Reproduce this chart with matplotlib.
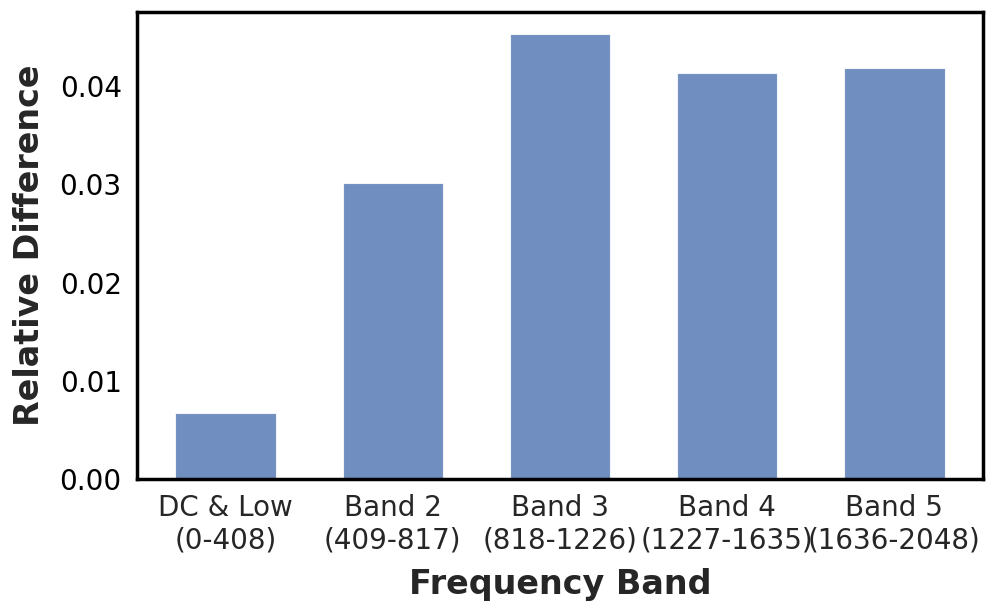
import matplotlib
matplotlib.use('Agg')
import matplotlib.pyplot as plt

bands = ['DC & Low\n(0-408)', 'Band 2\n(409-817)', 'Band 3\n(818-1226)',
         'Band 4\n(1227-1635)', 'Band 5\n(1636-2048)']
rel_diff = [0.0067, 0.0301, 0.0453, 0.0413, 0.0419]

fig, ax = plt.subplots(figsize=(9.97, 6.14), dpi=100)
ax.bar(range(len(bands)), rel_diff, width=0.6, color='#4C72B0', alpha=0.8,
       edgecolor='white', linewidth=0.8)
ax.set_xticks(range(len(bands)))
ax.set_xticklabels(bands, fontsize=20, color='#262626')
ax.set_yticks([0.0, 0.01, 0.02, 0.03, 0.04])
ax.set_yticklabels(['0.00', '0.01', '0.02', '0.03', '0.04'], fontsize=20)
ax.tick_params(length=0, pad=11)
ax.set_xlabel('Frequency Band', fontsize=24, fontweight='bold', color='#262626', labelpad=10)
ax.set_ylabel('Relative Difference', fontsize=24, fontweight='bold', color='#262626', labelpad=10)
for s in ax.spines.values():
    s.set_linewidth(2.5)
    s.set_color('black')

fig.subplots_adjust(left=0.1374, right=0.986, top=0.9805, bottom=0.22)
plt.savefig('out.png')
